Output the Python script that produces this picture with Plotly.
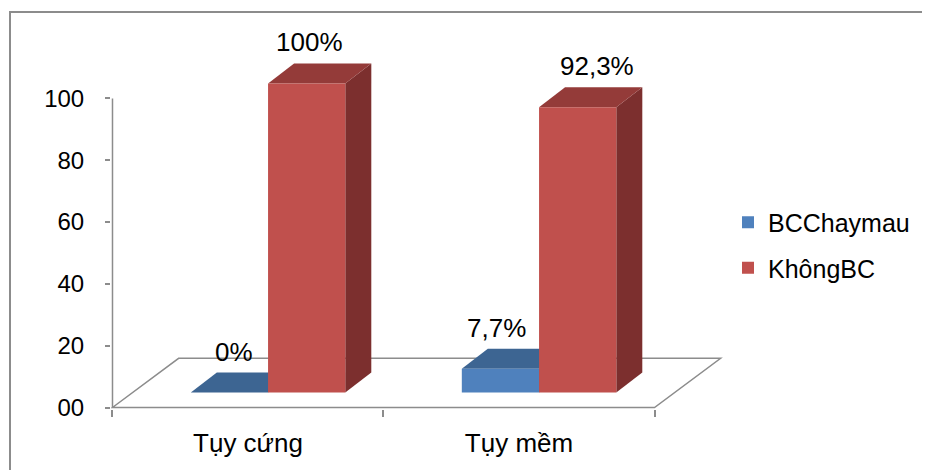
import plotly.graph_objects as go

# ---- data ----
categories = ["Tụy cứng", "Tụy mềm"]
series_names = ["BCChaymau", "KhôngBC"]
bc_chaymau = [0, 7.7]
khong_bc = [100, 92.3]
y_tick_vals = [0, 20, 40, 60, 80, 100]
y_tick_text = ["00", "20", "40", "60", "80", "100"]

# ---- style / pseudo-3D geometry (in axis units) ----
front_colors = ["#4F81BD", "#C0504D"]
top_colors = ["#3D6592", "#943B39"]
side_colors = ["#335580", "#7C2F2E"]
BAR_W = 0.285
OFFSETS = [-BAR_W, 0.0]
FLOOR_DX, FLOOR_DY = 0.244, 15.9      # floor depth projection
BASE_DX, BASE_DY = 0.074, 4.85        # front plane of bars
DEPTH_DX, DEPTH_DY = 0.096, 6.47      # bar depth
LABEL_XSHIFT = [[-8, -17], [-10, 6]]  # px fine tuning of value labels
GRAY = "#8C8C8C"
FONT = "Liberation Sans, Arial, sans-serif"

# page body has an 8px margin: figure drawn 8px in from the window corner
OFF = 8
W, H = 930 - OFF, 470 - OFF
PLOT_L, PLOT_R, PLOT_T, PLOT_B = 111 - OFF, 740 - OFF, 15 - OFF, 409 - OFF
L, R, T, B = PLOT_L, W - PLOT_R, PLOT_T, H - PLOT_B
X_MIN, X_MAX = -0.5055, 1.8155
Y_MIN, Y_MAX = -0.485, 127.0
pw = PLOT_R - PLOT_L
ph = PLOT_B - PLOT_T

xpos = list(range(len(categories)))
values = [bc_chaymau, khong_bc]

fig = go.Figure()
for s, (name, vals) in enumerate(zip(series_names, values)):
    fig.add_trace(go.Bar(
        name=name,
        x=[x + BASE_DX for x in xpos],
        y=vals,
        base=BASE_DY,
        width=BAR_W,
        offset=OFFSETS[s],
        marker=dict(color=front_colors[s], line=dict(width=0)),
        legendgroup=name,
        hoverinfo="skip",
    ))

shapes = []
# floor
fx0, fx1 = -0.5, len(categories) - 0.5
shapes.append(dict(
    type="path", xref="x", yref="y", layer="below",
    path=f"M {fx0},0 L {fx1},0 L {fx1 + FLOOR_DX},{FLOOR_DY} L {fx0 + FLOOR_DX},{FLOOR_DY} Z",
    line=dict(color=GRAY, width=1.5), fillcolor="white",
))
# y axis line (0..100)
shapes.append(dict(type="line", xref="x", yref="y", layer="below",
                   x0=-0.5, x1=-0.5, y0=0, y1=max(y_tick_vals),
                   line=dict(color=GRAY, width=1.5)))

annotations = []
for c, x in enumerate(xpos):
    for s, vals in enumerate(values):
        v = vals[c]
        x0 = x + BASE_DX + OFFSETS[s]
        x1 = x0 + BAR_W
        yb = BASE_DY
        yt = BASE_DY + v
        # side face
        shapes.append(dict(
            type="path", xref="x", yref="y", layer="below",
            path=(f"M {x1},{yb} L {x1},{yt} L {x1 + DEPTH_DX},{yt + DEPTH_DY} "
                  f"L {x1 + DEPTH_DX},{yb + DEPTH_DY} Z"),
            line=dict(width=0), fillcolor=side_colors[s],
        ))
        # top face
        shapes.append(dict(
            type="path", xref="x", yref="y", layer="below",
            path=(f"M {x0},{yt} L {x1},{yt} L {x1 + DEPTH_DX},{yt + DEPTH_DY} "
                  f"L {x0 + DEPTH_DX},{yt + DEPTH_DY} Z"),
            line=dict(width=0), fillcolor=top_colors[s],
        ))
        label = f"{v:g}".replace(".", ",") + "%"
        annotations.append(dict(
            x=(x0 + x1) / 2 + DEPTH_DX / 2, y=yt + DEPTH_DY,
            xref="x", yref="y", text=label, showarrow=False,
            yanchor="middle", yshift=21, xshift=LABEL_XSHIFT[s][c],
            font=dict(family=FONT, size=26, color="black"),
        ))

# outer chart border
shapes.append(dict(type="rect", xref="paper", yref="paper", layer="below",
                   x0=(10 - OFF - PLOT_L) / pw, x1=1.5, y0=-0.5,
                   y1=1 - (12 - OFF - PLOT_T) / ph,
                   line=dict(color=GRAY, width=2), fillcolor="rgba(0,0,0,0)"))

fig.update_layout(
    width=W, height=H,
    margin=dict(l=L, r=R, t=T, b=B, pad=0),
    paper_bgcolor="white", plot_bgcolor="white",
    barmode="overlay",
    shapes=shapes, annotations=annotations,
    font=dict(family=FONT, color="black"),
    legend=dict(
        x=(728 - OFF - PLOT_L) / pw, xanchor="left",
        y=1 - (245 - OFF - PLOT_T) / ph, yanchor="middle",
        font=dict(family=FONT, size=25, color="black"),
        traceorder="grouped", tracegroupgap=10,
        bgcolor="rgba(0,0,0,0)", itemwidth=30,
    ),
    xaxis=dict(
        range=[X_MIN, X_MAX], showgrid=False, zeroline=False, showline=False,
        tickmode="array", tickvals=xpos, ticktext=categories, ticks="",
        tickfont=dict(family=FONT, size=26, color="black"),
        ticklabelstandoff=16,
        minor=dict(tickmode="array", tickvals=[p - 0.5 for p in xpos] + [xpos[-1] + 0.5],
                   ticks="outside", ticklen=7, tickcolor=GRAY, tickwidth=1.5, showgrid=False),
        fixedrange=True,
    ),
    yaxis=dict(
        range=[Y_MIN, Y_MAX], showgrid=False, zeroline=False, showline=False,
        tickmode="array", tickvals=y_tick_vals, ticktext=y_tick_text,
        ticks="outside", ticklen=5, tickcolor=GRAY, tickwidth=1.5,
        tickfont=dict(family=FONT, size=24, color="black"),
        ticklabelstandoff=16,
        fixedrange=True,
    ),
)

fig.write_html("out.html")
